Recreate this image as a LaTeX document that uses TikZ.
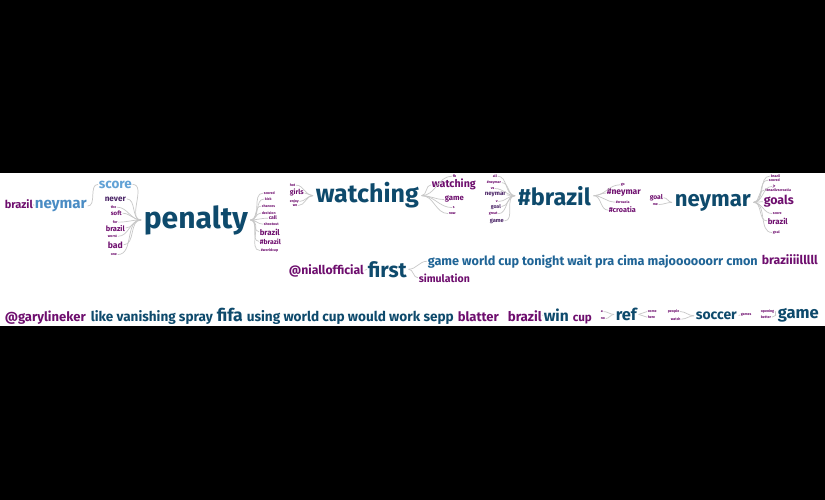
\documentclass[tikz,border=0pt]{standalone}
\usepackage{fontspec}
\setmainfont{Fira Sans}
\usepackage{graphicx}
\definecolor{navy}{HTML}{0E4A6C}
\definecolor{mblue}{HTML}{1F6496}
\definecolor{lblue}{HTML}{62A2D6}
\definecolor{lblueb}{HTML}{4A8CC4}
\definecolor{purp}{HTML}{6E0E6E}
\definecolor{dpurp}{HTML}{4A2466}
\definecolor{lnk}{HTML}{C8C8C8}
\newcommand{\tw}[2]{\resizebox{#1pt}{!}{\bfseries #2}}
\newcommand{\tny}{\fontsize{3.6}{4}\selectfont\bfseries}
\tikzset{
  wd/.style={inner sep=0pt, outer sep=0.8pt, anchor=base west},
  sm/.style={wd, text=purp, font=\tny},
  cn/.style={draw=lnk, line width=0.7pt}
}
\begin{document}
\begin{tikzpicture}[x=1pt,y=-1pt]
\fill[black] (0,0) rectangle (825,500);
\fill[white] (0,173) rectangle (825,326);
\useasboundingbox (0,0) rectangle (825,500);

% ---------- penalty tree ----------
\node[wd,text=navy] (penalty) at (143,228) {\tw{104}{penalty}};
\node[wd,text=purp] (bzA) at (4,208.5) {\tw{28}{brazil}};
\node[wd,text=lblueb] (nyA) at (34,208.5) {\tw{52}{neymar}};
\node[wd,text=lblue] (sc) at (98,188) {\tw{33}{score}};
\node[wd,text=dpurp] (nv) at (104,201) {\tw{21}{never}};
\node[sm] (t1) at (110,208.5) {the};
\node[wd,text=purp] (sf) at (110,215.5) {\tw{11}{soft}};
\node[sm] (t2) at (112,223.5) {for};
\node[wd,text=purp] (bz1) at (105,231) {\tw{19}{brazil}};
\node[sm] (t3) at (107,237.5) {worst};
\node[wd,text=purp] (bd) at (107,248) {\tw{15}{bad}};
\node[sm] (t4) at (110,255.5) {one};
\draw[cn] (bzA.east) -- (nyA.west);
\draw[cn] (nyA.east) to[out=0,in=180] (sc.west);
\foreach \n in {sc,nv,t1,sf,t2,bz1,t3,bd,t4}
  \draw[cn] (\n.east) to[out=0,in=180] ([xshift=-2pt]penalty.west);

\node[sm] (p1) at (263,194.5) {scored};
\node[sm] (p2) at (264,200.5) {kick};
\node[sm] (p3) at (261,207.5) {chances};
\node[sm] (p4) at (261,214.5) {decision};
\node[wd,text=purp] (p5) at (268,220) {\tw{8}{call}};
\node[sm] (p6) at (263,225.5) {shootout};
\node[wd,text=purp] (p7) at (259,235) {\tw{20}{brazil}};
\node[wd,text=purp] (p8) at (259,244) {\tw{21}{\#brazil}};
\node[sm] (p9) at (260,251.5) {\#worldcup};
\foreach \n in {p1,p2,p3,p4,p5,p6,p7,p8,p9}
  \draw[cn] ([xshift=2pt]penalty.east) to[out=0,in=180] (\n.west);

% ---------- watching tree ----------
\node[wd,text=navy] (watching) at (315,203) {\tw{103}{watching}};
\node[sm] (g1) at (289,186.5) {hot};
\node[wd,text=purp] (girls) at (289,195) {\tw{14}{girls}};
\node[sm] (g2) at (289,202.5) {enjoy};
\node[sm] (g3) at (292,206.5) {we};
\foreach \n in {g1,girls,g2,g3}
  \draw[cn] (\n.east) to[out=0,in=180] ([xshift=-2pt]watching.west);
\node[sm] (w1) at (452,177.5) {fb};
\node[wd,text=purp] (w2) at (431,188) {\tw{44}{watching}};
\node[wd,text=purp] (w3) at (444,201) {\tw{19}{game}};
\node[sm] (w4) at (452,208.5) {s};
\node[sm] (w5) at (448,214.5) {now};
\foreach \n in {w1,w2,w3,w4,w5}
  \draw[cn] ([xshift=2pt]watching.east) to[out=0,in=180] (\n.west);

% ---------- #brazil tree ----------
\node[wd,text=navy] (hbrazil) at (517,205) {\tw{73}{\#brazil}};
\node[sm] (b1) at (492,177.5) {all};
\node[sm] (b2) at (486,183.5) {\#neymar};
\node[sm] (b3) at (490,189.5) {vs};
\node[wd,text=dpurp] (b4) at (484,196) {\tw{21}{neymar}};
\node[sm] (b5) at (495,202.5) {v};
\node[wd,text=dpurp] (b6) at (490,208) {\tw{10}{goal}};
\node[sm] (b7) at (488,214.5) {great};
\node[wd,text=dpurp] (b8) at (489,222) {\tw{14}{game}};
\foreach \n in {b1,b2,b3,b4,b5,b6,b7,b8}
  \draw[cn] (\n.east) to[out=0,in=180] ([xshift=-2pt]hbrazil.west);
\node[sm] (c1) at (620,185.5) {go};
\node[wd,text=purp] (c2) at (606,195) {\tw{34}{\#neymar}};
\node[sm] (c3) at (615,203.5) {\#croacia};
\node[wd,text=purp] (c4) at (608,213) {\tw{27}{\#croatia}};
\foreach \n in {c1,c2,c3,c4}
  \draw[cn] ([xshift=2pt]hbrazil.east) to[out=0,in=180] (\n.west);

% ---------- neymar tree ----------
\node[wd,text=navy] (neymar) at (674,206) {\tw{76}{neymar}};
\node[wd,text=purp] (n1) at (649,199.5) {\tw{13}{goal}};
\node[sm] (n2) at (652,205.5) {me};
\foreach \n in {n1,n2}
  \draw[cn] (\n.east) to[out=0,in=180] ([xshift=-2pt]neymar.west);
\node[sm] (m1) at (770,177.5) {brazil};
\node[sm] (m2) at (768,181.5) {scored};
\node[sm] (m3) at (772,187.5) {jr};
\node[sm] (m4) at (764,191.5) {\#brazilvscroatia};
\node[wd,text=purp] (m5) at (763,205) {\tw{30}{goals}};
\node[sm] (m6) at (772,214.5) {score};
\node[wd,text=purp] (m7) at (767,224) {\tw{20}{brazil}};
\node[sm] (m8) at (772,233.5) {goal};
\foreach \n in {m1,m2,m3,m4,m5,m6,m7,m8}
  \draw[cn] ([xshift=2pt]neymar.east) to[out=0,in=180] (\n.west);

% ---------- first tree ----------
\node[wd,text=navy] (first) at (367,277) {\tw{39}{first}};
\node[wd,text=purp] (niall) at (288,274) {\tw{75}{@niallofficial}};
\node[wd,text=mblue] (gwc) at (427,265) {\tw{330}{game world cup tonight wait pra cima majoooooorr cmon}};
\node[wd,text=purp] (brz) at (761,265) {\tw{56}{braziiiilllll}};
\node[wd,text=purp] (sim) at (418,282) {\tw{51}{simulation}};
\draw[cn] (niall.east) -- (first.west);
\draw[cn] ([xshift=1pt]first.east) to[out=0,in=180] (gwc.west);
\draw[cn] ([xshift=1pt]first.east) to[out=0,in=180] (sim.west);

% ---------- bottom row ----------
\node[wd,text=purp] (gary) at (4,321) {\tw{81}{@garylineker}};
\node[wd,text=navy] (like) at (90,321) {\tw{122}{like vanishing spray}};
\node[wd,text=navy] (fifa) at (216,321) {\tw{26}{fifa}};
\node[wd,text=navy] (using) at (246,321) {\tw{207}{using world cup would work sepp}};
\node[wd,text=purp] (blatter) at (457,321) {\tw{41}{blatter}};
\node[wd,text=purp] (bzB) at (507,321) {\tw{34}{brazil}};
\node[wd,text=navy] (win) at (543,321) {\tw{25}{win}};
\node[wd,text=purp] (cup) at (572,321) {\tw{19}{cup}};
\draw[cn] (bzB.east) -- (win.west);

\node[wd,text=navy] (ref) at (615,320.5) {\tw{21}{ref}};
\node[sm] (r1) at (600,312.5) {a};
\node[sm] (r2) at (600,319.5) {no};
\foreach \n in {r1,r2}
  \draw[cn] (\n.east) to[out=0,in=180] ([xshift=-1pt]ref.west);
\node[sm] (r3) at (647,312.5) {come};
\node[sm] (r4) at (647,318.5) {here};
\foreach \n in {r3,r4}
  \draw[cn] ([xshift=1pt]ref.east) to[out=0,in=180] (\n.west);

\node[wd,text=navy] (soccer) at (695,319.5) {\tw{41}{soccer}};
\node[sm] (s1) at (667,312.5) {people};
\node[sm] (s2) at (670,320.5) {watch};
\foreach \n in {s1,s2}
  \draw[cn] (\n.east) to[out=0,in=180] ([xshift=-1pt]soccer.west);
\node[sm] (s3) at (740,315.5) {games};
\draw[cn] ([xshift=1pt]soccer.east) -- (s3.west);

\node[wd,text=navy] (game) at (777,318.5) {\tw{41}{game}};
\node[sm] (o1) at (760,312.5) {opening};
\node[sm] (o2) at (760,318.5) {better};
\foreach \n in {o1,o2}
  \draw[cn] (\n.east) to[out=0,in=180] ([xshift=-1pt]game.west);
\end{tikzpicture}
\end{document}
